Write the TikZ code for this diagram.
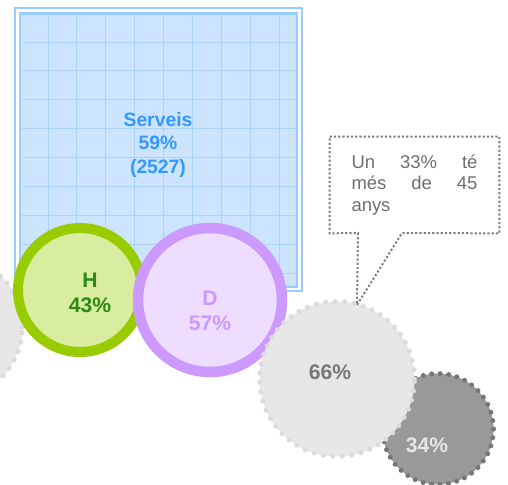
\documentclass[tikz,border=0pt]{standalone}
\usepackage{fontspec}
\setmainfont{Liberation Sans}
\definecolor{servblue}{HTML}{3399FF}
\definecolor{servfill}{HTML}{CCE4FE}
\definecolor{servline}{HTML}{99CCFF}
\definecolor{servgrid}{HTML}{AAD2FA}
\definecolor{hring}{HTML}{99CC00}
\definecolor{hfill}{HTML}{D9EDA0}
\definecolor{htext}{HTML}{2B8A12}
\definecolor{dring}{HTML}{CC99FF}
\definecolor{dfill}{HTML}{EEDDFF}
\definecolor{grisclar}{HTML}{E7E7E7}
\definecolor{grisdots}{HTML}{DBDBDB}
\definecolor{grisfosc}{HTML}{777777}
\definecolor{grismig}{HTML}{999999}
\definecolor{grisvora}{HTML}{767676}
\definecolor{notegrey}{HTML}{808080}
\definecolor{notetext}{HTML}{6E6E6E}
\tikzset{
  ring/.style={shape=circle,line width=0.2cm,inner sep=0pt},
  dotring/.style={shape=circle,inner sep=0pt,line width=0.1cm,line cap=round,dash pattern=on 0pt off 0.19cm},
  pct/.style={font=\fontsize{12}{14.2}\selectfont\bfseries,align=center},
}
\begin{document}
\begin{tikzpicture}
    \clip (0,0) rectangle (10.16,-9.7);
    % serveis
    \draw[servline,line width=0.04cm] (0.3,-0.16) rectangle (6.04,-5.82);
    \draw[servline,line width=0.05cm,fill=servfill] (0.4,-0.27) rectangle (5.94,-5.74);
    \draw[servgrid,line width=0.02cm,shift={(0.96,-0.84)},step=0.578] (-0.53,0.54) grid (4.95,-4.87);
    \node[font=\fontsize{11}{13.3}\selectfont\bfseries,text=servblue,align=center] (serveis) at (3.16,-2.9) {Serveis\\59\%\\(2527)};

    % cercles
    \node[dotring,draw=grisdots,fill=grisclar,minimum size=2.82cm] (resta) at (-0.96,-6.54) {};
    \node[ring,draw=hring,fill=hfill,minimum size=2.48cm] (homes) at (1.6,-5.8) {};
    \node[pct,text=htext] (lblh) at (1.8,-5.85) {H\\43\%};
    \node[ring,draw=dring,fill=dfill,line width=0.21cm,minimum size=2.88cm] (dones) at (4.2,-6.0) {};
    \node[pct,text=dring] (lbld) at (4.2,-6.22) {D\\57\%};
    \node[dotring,draw=grisvora,fill=grismig,minimum size=2.22cm,dash pattern=on 0pt off 0.17cm] (grans) at (8.76,-8.58) {};
    \node[dotring,draw=grisdots,fill=grisclar,minimum size=3.1cm] (joves) at (6.74,-7.58) {};
    \node[pct,text=grisfosc] (lbljoves) at (6.6,-7.44) {66\%};
    \node[pct,text=grisclar] (lblgrans) at (8.54,-8.9) {34\%};

    % nota
    \node[font=\fontsize{10.5}{12.3}\selectfont,text=notetext,text width=2.52cm,align=left,
          minimum width=3.38cm,minimum height=1.92cm] (nota) at (8.29,-3.7)
          {Un\hfill 33\%\hfill té\\més\hfill de\hfill 45\\anys};
    \coordinate (puntA) at (7.16,-4.66);
    \coordinate (puntB) at (8.04,-4.66);
    \coordinate (punta) at (7.14,-6.1);
    \draw[notegrey,line width=0.04cm,dash pattern=on 0.045cm off 0.04cm]
        (nota.north west) -- (nota.north east) -- (nota.south east) -- (puntB)
        -- (punta) -- (puntA) -- (nota.south west) -- cycle;
\end{tikzpicture}
\end{document}
